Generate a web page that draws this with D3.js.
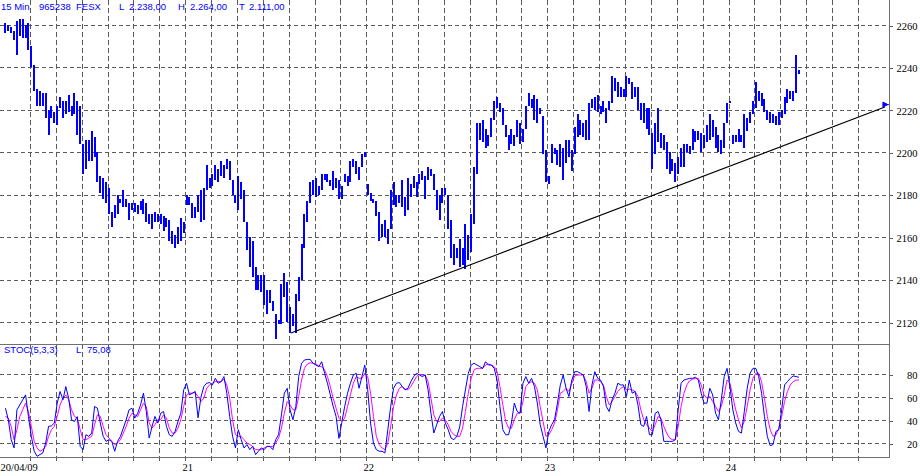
<!DOCTYPE html>
<html><head><meta charset="utf-8">
<script src="https://cdn.jsdelivr.net/npm/d3@7"></script>
<style>body{margin:0;background:#fff;} svg{display:block}</style>
</head><body>
<svg id="c" width="920" height="476"></svg>
<script>
// ---------- DATA ----------
const headerTexts = ["15 Min","965238","FESX","L","2.238,00","H","2.264,00","T","2.111,00"];
const stochTitle = ["STOC(5,3,3)","L","75,08"];
const dayLabels = ["20/04/09","21","22","23","24"];
const priceTicks = [2120,2140,2160,2180,2200,2220,2240,2260];
const stochTicks = [20,40,60,80];
const barsPerDay = 63, barsPerGrid = 9, gridCount = 33;

const barHigh = [
2261,2260,2259,2257,2262,2263,2263,2260,2261,
2250,2241,2230,2229,2228,2228,2220,2222,2219,
2222,2226,2224,2224,2227,2222,2228,2224,2222,
2204,2206,2206,2210,2207,2200,2189,2188,2186,
2183,2172,2175,2180,2178,2182,2178,2176,2176,
2176,2175,2177,2178,2176,2171,2171,2172,2171,
2171,2170,2169,2168,2163,2161,2165,2169,2167,
2180,2179,2176,2174,2180,2182,2183,2194,2188,
2190,2194,2192,2196,2194,2197,2196,2187,2180,
2189,2186,2182,2167,2160,2158,2146,2142,2142,
2142,2135,2135,2130,2124,2121,2138,2143,2139,
2127,2124,2133,2141,2157,2171,2177,2186,2187,
2188,2184,2190,2190,2190,2187,2191,2188,2187,
2184,2190,2189,2196,2197,2196,2193,2199,2200,
2185,2181,2178,2177,2172,2166,2168,2164,2182,
2186,2180,2180,2187,2179,2188,2185,2189,2186,
2190,2191,2189,2193,2192,2190,2182,2180,2183,
2183,2180,2168,2157,2155,2159,2155,2166,2161,
2171,2193,2214,2214,2215,2211,2208,2216,2224,
2226,2223,2221,2213,2208,2211,2208,2215,2214,
2211,2222,2228,2225,2227,2225,2221,2217,2201,
2189,2204,2202,2201,2204,2202,2206,2206,2201,
2212,2218,2215,2214,2215,2223,2225,2226,2227,
2222,2224,2221,2224,2236,2235,2233,2231,2230,
2236,2235,2233,2231,2231,2223,2223,2221,2221,
2209,2214,2221,2209,2208,2205,2200,2197,2195,
2198,2202,2204,2204,2203,2211,2210,2210,2209,
2208,2213,2218,2215,2212,2208,2206,2214,2223,
2224,2208,2208,2211,2208,2218,2216,2219,2224,
2233,2229,2228,2225,2220,2219,2218,2217,2219,
2220,2226,2230,2229,2229,2246,2239];
const barLow = [
2256,2257,2256,2253,2246,2255,2254,2254,2248,
2240,2229,2222,2222,2222,2216,2208,2216,2214,
2213,2221,2216,2218,2219,2217,2218,2208,2204,
2190,2192,2196,2196,2198,2186,2181,2178,2176,
2171,2165,2169,2171,2176,2174,2174,2168,2173,
2172,2171,2173,2171,2167,2166,2164,2167,2167,
2166,2163,2165,2158,2157,2155,2157,2158,2162,
2175,2175,2169,2169,2172,2167,2168,2182,2183,
2184,2187,2186,2189,2188,2192,2187,2180,2176,
2173,2178,2167,2154,2146,2141,2135,2135,2134,
2128,2124,2129,2125,2112,2119,2119,2132,2120,
2115,2118,2115,2130,2140,2155,2167,2176,2180,
2179,2180,2182,2187,2186,2184,2182,2183,2178,
2178,2186,2184,2186,2193,2190,2187,2193,2198,
2180,2177,2176,2170,2158,2160,2160,2157,2164,
2175,2174,2176,2174,2170,2173,2179,2183,2179,
2185,2187,2178,2187,2189,2182,2173,2168,2176,
2180,2164,2150,2147,2150,2146,2147,2145,2149,
2153,2166,2190,2206,2205,2202,2203,2207,2215,
2221,2219,2213,2207,2201,2204,2203,2207,2204,
2205,2211,2222,2221,2215,2214,2218,2199,2186,
2185,2195,2199,2194,2193,2187,2195,2198,2191,
2199,2207,2208,2207,2206,2206,2221,2220,2219,
2218,2219,2214,2220,2223,2229,2226,2226,2226,
2226,2232,2225,2226,2220,2215,2214,2211,2208,
2192,2199,2205,2202,2201,2192,2190,2191,2186,
2190,2193,2193,2200,2199,2201,2205,2206,2200,
2202,2205,2206,2207,2202,2200,2199,2202,2214,
2223,2204,2205,2205,2205,2202,2210,2214,2218,
2221,2224,2222,2219,2215,2214,2214,2213,2213,
2216,2218,2223,2225,2224,2228,2237];

const stochK = [
50.4,40.3,22.9,15.7,49,53.3,57.7,62,43.2,25.8,
12.8,8.4,9.9,11.3,20,34.5,35,37.4,54.8,65,
57.7,69.3,59,40.3,38.8,43,17,14.2,27.2,25.8,
28.7,51.9,50.4,37.4,25.8,21.4,22.9,21.4,12.8,21.4,
25.8,33,40.3,49,50.4,41.7,46,53.3,63.5,47.5,
24.3,34.5,43.2,37.4,46,47.5,34.5,27.2,25.8,30.1,
38.8,46,66.4,72.2,62,63.5,65,42,60,69.3,
72.2,72.8,70.7,76.5,72.2,73.6,78,63.5,43.2,25.8,
15.7,31.6,22.9,15.7,18.6,14.2,17,9.9,12.8,15.7,
14.2,17,17,14.2,22.9,27.2,44.6,63.5,67.8,49,
40.3,51.9,78,89.6,92.5,93,93,89.6,88.1,86.7,
91,80.9,72.2,62,51.9,43.2,24,38,51.9,63.5,
72.2,79.4,80.9,67.8,78,88.1,66.4,37.4,20,14.2,
12.8,12.8,11.3,31.6,51.9,67.8,72.2,72.8,69.3,66.4,
67.8,73.6,78,80.9,79.4,78,79.4,66.4,46,28.7,
36,43.2,47.5,37.4,31.6,24.3,22.9,25.8,34,51.9,
66.4,80.9,88.1,89.6,88.1,86.7,85.2,91,88.1,88.1,
85.2,75,51.9,31.6,27.2,27.2,37.4,54.8,47.5,46,
72.2,78,72.2,76.5,69.3,54.8,36,25.8,15.7,30.1,
36,40.3,54.8,70.7,79.4,67.8,60.6,75,82.3,82.3,
80.9,79.4,69.3,47.5,70.7,82.3,76.5,75,69.3,51.9,
47.5,57.7,63.5,72.2,70.7,70.7,60.6,75,63.5,65,
53.3,36,34.5,43.2,27.2,27.2,46,47.5,40.3,21.4,
21.4,21.4,21.4,22.9,49,72.2,75,75.7,76.5,76.5,
77.4,75,63.5,54.8,54.8,67.8,62,46,40.3,57.7,
78,85.2,69.3,49,37.4,30.1,28.7,47.5,67.8,80.9,
85.2,85.2,78,63.5,43.2,25.8,17.7,18.6,30.1,31.6,
49,70.7,73.6,76.5,78.6,78,77.4];
const stochD = [
43.2,41.7,34.5,22.9,31.6,43.2,49,54.8,47.5,34.5,
21.4,15.7,12.8,14.2,17,25.8,31.6,34.5,43.2,53.3,
59.1,62,57.7,49,43.2,41.7,31.6,22.9,22.9,24.3,
25.8,36,44.6,43.2,34.5,27.2,24.3,21.4,18.6,20,
22.9,28.7,34.5,41.7,46,44.6,43.2,49,54.8,51.9,
37.4,33,36,40.3,40.3,44.6,41.7,33,28.7,28.7,
33,40.3,51.9,62,63.5,63.5,64,60.6,56.2,59.1,
67.8,70.7,72.2,73.6,73.6,73.6,75.7,70.7,59.1,40.3,
27.2,25.8,25.8,22.9,20,18.6,17,14.2,14.2,14.2,
15.7,17,17,17,20,24.3,33,46,56.2,53.3,
49,49,60.6,75,85.2,89,90.1,89.6,89,87.2,
86.7,83.8,78,69.3,59.1,50.4,41.7,38.8,41.7,51.9,
62,72.2,78,76.5,76.5,80.9,78,63.5,43.2,25.8,
18.6,15.7,14.2,20,34.5,51.9,62,67.8,69.3,67,
66.4,69.3,73.6,78,80,79.4,79.4,73.6,59.1,44.6,
38.8,38.8,41.7,40.3,36,30.1,27.2,25.8,25.8,33,
47.5,63.5,76.5,83.8,85.2,85.2,85.2,88.1,89,88.1,
86.7,82.3,69.3,53.3,38.8,33,33,40.3,46,46,
56.2,69.3,72.2,73.6,72.2,66.4,51.9,38.8,25.8,27.2,
31.6,37.4,49,63.5,65,67.8,65,72.2,78.6,79.4,
79.4,79.4,73.6,63.5,67.8,75,75,73.6,70.7,60.6,
53.3,56.2,60.6,65,67.8,69.3,66.4,67,66.4,65,
60.6,49,40.3,36,33,30.1,36,43.2,41.7,34.5,
28.7,24.3,22.9,22.9,34.5,51.9,63.5,70.7,74.5,75.7,
76.5,76.5,70.7,62,59.1,60.6,56.2,51.9,47.5,51.9,
62,75,72.2,60.6,49,40.3,33,38.8,51.9,66.4,
76.5,80.9,80.9,73.6,59.1,43.2,31.6,25.8,27.2,33,
43.2,56.2,65,70.7,73.6,75,75.08];

// trend line anchors: [bar index, price]
const trendIndex = [99.3, 305.9];
const trendPrice = [2114.8, 2221.3];

// ---------- LAYOUT ----------
const svg = d3.select("#c");
const axisX = 889, mainTop = 0, sepY = 344, botY = 457;
const barStep = 2.875, x0 = 4;
const totalSlots = 5 * barsPerDay;
const x = d3.scaleLinear().domain([-0.5, totalSlots - 0.5]).range([x0, x0 + totalSlots * barStep]);
const yMain = d3.scaleLinear().domain([2120, 2260]).range([322, 25]);
const yStoch = d3.scaleLinear().domain([20, 80]).range([443, 374.3]);
const gridColor = "#5a5a5a", dash = "4,3";

const blue = "#0000ff";

// vertical grid lines
const vIdx = d3.range(1, gridCount + 1).map(k => k * barsPerGrid - 0.5);
svg.append("g").selectAll("line").data(vIdx).join("line")
  .attr("x1", d => Math.round(x(d)) + 0.5).attr("x2", d => Math.round(x(d)) + 0.5)
  .attr("y1", mainTop).attr("y2", 462)
  .attr("stroke", gridColor).attr("stroke-dasharray", "5,3").attr("shape-rendering", "crispEdges");

// horizontal grids main
svg.append("g").selectAll("line").data(priceTicks).join("line")
  .attr("x1", 0).attr("x2", axisX)
  .attr("y1", d => Math.round(yMain(d)) + 0.5).attr("y2", d => Math.round(yMain(d)) + 0.5)
  .attr("stroke", gridColor).attr("stroke-dasharray", dash).attr("shape-rendering", "crispEdges");
svg.append("g").selectAll("line").data(stochTicks).join("line")
  .attr("x1", 0).attr("x2", axisX)
  .attr("y1", d => Math.round(yStoch(d)) + 0.5).attr("y2", d => Math.round(yStoch(d)) + 0.5)
  .attr("stroke", gridColor).attr("stroke-dasharray", dash).attr("shape-rendering", "crispEdges");

// borders
const border = svg.append("g").attr("stroke", "#707070").attr("shape-rendering", "crispEdges");
border.append("line").attr("x1", axisX + 0.5).attr("x2", axisX + 0.5).attr("y1", 0).attr("y2", botY + 1);
border.append("line").attr("x1", 0).attr("x2", axisX).attr("y1", sepY + 0.5).attr("y2", sepY + 0.5);
border.append("line").attr("x1", 0).attr("x2", axisX).attr("y1", botY + 0.5).attr("y2", botY + 0.5);

// right axes
const axMain = d3.axisRight(yMain).tickValues(priceTicks).tickSize(3).tickPadding(0).tickFormat(d3.format("d"));
const gA = svg.append("g").attr("transform", `translate(${axisX + 0.5},0.5)`).call(axMain);
const axSt = d3.axisRight(yStoch).tickValues(stochTicks).tickSize(3).tickPadding(0).tickFormat(d3.format("d"));
const gS = svg.append("g").attr("transform", `translate(${axisX + 0.5},0.5)`).call(axSt);
[gA, gS].forEach(g => {
  g.select(".domain").remove();
  g.selectAll(".tick line").attr("stroke", gridColor).attr("shape-rendering", "crispEdges");
  g.selectAll(".tick text").attr("x", 28).attr("text-anchor", "end").attr("dy", "0.35em")
    .attr("font-family", "'Liberation Serif', 'Times New Roman', serif").attr("font-size", 10.5).attr("fill", "#000");
});

// bottom axis (day labels)
const dayIdx = dayLabels.map((d, i) => i * barsPerDay - 0.5);
const axB = d3.axisBottom(x).tickValues(dayIdx).tickSize(0).tickPadding(0).tickFormat((d, i) => dayLabels[i]);
const gB = svg.append("g").attr("transform", `translate(0,${botY + 7})`).call(axB);
gB.select(".domain").remove();
gB.selectAll(".tick text").attr("font-family", "'Liberation Serif', 'Times New Roman', serif")
  .attr("font-size", 10.5).attr("fill", "#000").attr("dy", "0.71em").attr("dx", 2);
gB.selectAll(".tick").filter((d, i) => i === 0).select("text").attr("text-anchor", "start").attr("x", -x(dayIdx[0])).attr("dx", 0);

// price bars
const bars = barHigh.map((h, i) => ({i, h, l: barLow[i]}));
svg.append("g").selectAll("rect").data(bars).join("rect")
  .attr("x", d => Math.round(x(d.i)) - 1).attr("width", 2)
  .attr("y", d => Math.round(yMain(d.h)))
  .attr("height", d => Math.max(1, Math.round(yMain(d.l)) - Math.round(yMain(d.h))))
  .attr("fill", blue).attr("shape-rendering", "crispEdges");

// trend line
const tl = trendIndex.map((t, i) => [x(t), yMain(trendPrice[i])]);
svg.append("path").attr("d", d3.line()(tl)).attr("stroke", "#000").attr("stroke-width", 1.1).attr("fill", "none");
const ex = tl[1][0], ey = tl[1][1];
svg.append("path").attr("d", `M${ex - 2},${ey - 5} L${ex - 2},${ey} L${ex + 3},${ey - 2.5} Z M${ex},${ey - 2.5} L${ex + 4},${ey - 2.5}`)
  .attr("fill", blue).attr("stroke", blue).attr("stroke-width", 1);

// stochastic lines
const lineSt = d3.line().x((d, i) => x(i)).y(d => yStoch(d));
svg.append("path").datum(stochD).attr("d", lineSt).attr("fill", "none").attr("stroke", "#ff00ff").attr("stroke-width", 1);
svg.append("path").datum(stochK).attr("d", lineSt).attr("fill", "none").attr("stroke", blue).attr("stroke-width", 1);

// header texts
const headerX = [1, 39, 76, 119, 129, 178, 190, 239, 249];
svg.append("g").selectAll("text").data(headerTexts).join("text")
  .attr("x", (d, i) => headerX[i]).attr("y", 9.5)
  .attr("font-family", "'Liberation Sans', Arial, sans-serif").attr("font-size", 9.5).attr("fill", blue)
  .text(d => d);
const stX = [4, 76, 87];
svg.append("g").selectAll("text").data(stochTitle).join("text")
  .attr("x", (d, i) => stX[i]).attr("y", 353)
  .attr("font-family", "'Liberation Sans', Arial, sans-serif").attr("font-size", 9.5).attr("fill", blue)
  .text(d => d);
</script>
</body></html>
